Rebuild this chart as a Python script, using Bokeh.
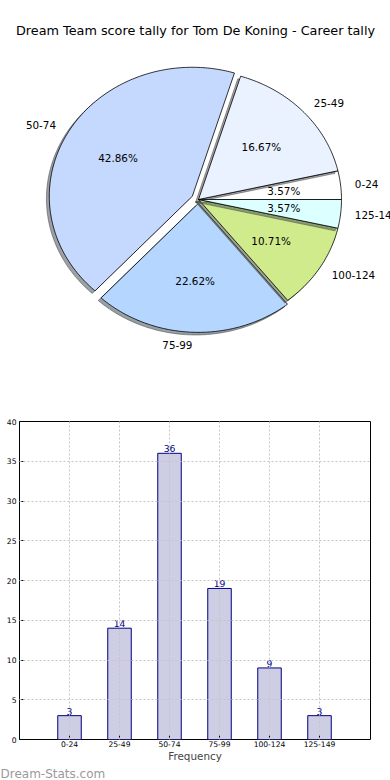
import math
from bokeh.plotting import figure
from bokeh.models import ColumnDataSource, Label, FixedTicker, Range1d, Title
from bokeh.embed import file_html
from bokeh.resources import INLINE
from bokeh.core.properties import value

# ---------------- data ----------------
title_text = "Dream Team score tally for Tom De Koning - Career tally"
categories = ["0-24", "25-49", "50-74", "75-99", "100-124", "125-149"]
counts = [3, 14, 36, 19, 9, 3]
slice_colors = ["#ffffff", "#eaf1ff", "#c5d9ff", "#b5d7ff", "#d0eb8c", "#dcffff"]
explode = [0.0, 0.0, 0.05, 0.03, 0.0, 0.0]
y_ticks = [0, 5, 10, 15, 20, 25, 30, 35, 40]
x_axis_label = "Frequency"
watermark = "Dream-Stats.com"

FONT = "DejaVu Sans"
W = 390

# ---------------- pie ----------------
H1 = 400
cx_px, cy_px = 198.0, 199.0      # pie centre on the canvas
rx_px, ry_px = 143.0, 129.0      # pixels per unit radius (elliptical pie)

p1 = figure(width=W, height=H1, output_backend="svg", toolbar_location=None,
            x_range=Range1d(-cx_px / rx_px, (W - cx_px) / rx_px),
            y_range=Range1d(-(H1 - cy_px) / ry_px, cy_px / ry_px),
            x_axis_type=None, y_axis_type=None, min_border=0)
p1.outline_line_color = None
p1.grid.visible = False

total = float(sum(counts))
xs, ys, fills, falpha, lcolors, lalpha, lwidth = [], [], [], [], [], [], []
lab_l = dict(x=[], y=[], t=[])
lab_r = dict(x=[], y=[], t=[])
pct = dict(x=[], y=[], t=[])
cum = 0.0
for cat, c, col, ex in zip(categories, counts, slice_colors, explode):
    t1 = 360.0 * cum / total
    t2 = 360.0 * (cum + c) / total
    cum += c
    tm = math.radians((t1 + t2) / 2.0)
    ox, oy = ex * math.cos(tm), ex * math.sin(tm)
    n = max(2, int(abs(t2 - t1)) + 1)
    px = [ox]
    py = [oy]
    for k in range(n + 1):
        a = math.radians(t1 + (t2 - t1) * k / n)
        px.append(ox + math.cos(a))
        py.append(oy + math.sin(a))
    # shadow (matplotlib style: 0.3 * face colour, alpha 0.5, offset -0.02)
    r = int(col[1:3], 16); g = int(col[3:5], 16); b = int(col[5:7], 16)
    sc = "#%02x%02x%02x" % (int(r * 0.3), int(g * 0.3), int(b * 0.3))
    xs.append([v - 0.02 for v in px]); ys.append([v - 0.02 for v in py])
    fills.append(sc); falpha.append(0.5); lcolors.append(sc); lalpha.append(0.5); lwidth.append(1.0)
    xs.append(px); ys.append(py)
    fills.append(col); falpha.append(1.0); lcolors.append("#000000"); lalpha.append(1.0); lwidth.append(0.8)
    # labels
    lx = ox + 1.1 * math.cos(tm)
    ly = oy + 1.1 * math.sin(tm)
    d = lab_l if lx > 0 else lab_r
    d["x"].append(lx); d["y"].append(ly); d["t"].append(cat)
    pct["x"].append(ox + 0.6 * math.cos(tm))
    pct["y"].append(oy + 0.6 * math.sin(tm))
    pct["t"].append("%.2f%%" % (100.0 * c / total))

src = ColumnDataSource(dict(xs=xs, ys=ys, fill=fills, fa=falpha, lc=lcolors, la=lalpha, lw=lwidth))
p1.patches("xs", "ys", source=src, fill_color="fill", fill_alpha="fa",
           line_color="lc", line_alpha="la", line_width="lw")

txt_style = dict(text_font=value(FONT), text_font_size=value("10.4px"), text_color="#000000",
                 text_baseline="middle")
p1.text(x=lab_l["x"], y=lab_l["y"], text=lab_l["t"], text_align="left", **txt_style)
p1.text(x=lab_r["x"], y=lab_r["y"], text=lab_r["t"], text_align="right", **txt_style)
p1.text(x=pct["x"], y=pct["y"], text=pct["t"], text_align="center", **txt_style)

p1.add_layout(Label(x=W / 2.0, y=H1 - 30, x_units="screen", y_units="screen", text=title_text,
                    text_align="center", text_baseline="middle", text_font=FONT,
                    text_font_size="12.8px", text_color="#000000"))

# ---------------- bar chart ----------------
H2 = 380
BL, BR, BT, BB = 19, 20, 21, 40
xpos = list(range(len(categories)))
p2 = figure(width=W, height=H2, output_backend="svg", toolbar_location=None,
            x_range=Range1d(-1.0, 6.02), y_range=Range1d(0, 40),
            min_border_left=BL, min_border_right=BR, min_border_top=BT, min_border_bottom=BB)
p2.outline_line_color = "#000000"
p2.outline_line_width = 1

p2.vbar(x=xpos, top=counts, width=0.47, bottom=0, fill_color="#cdcde4",
        line_color="#000080", line_width=1)
p2.text(x=xpos, y=counts, text=[str(c) for c in counts], text_align="center",
        text_baseline="bottom", y_offset=-1, text_font=value(FONT), text_font_size=value("9.2px"),
        text_color="#000080")

xt = FixedTicker(ticks=xpos)
yt = FixedTicker(ticks=y_ticks)
p2.xaxis.ticker = xt
p2.yaxis.ticker = yt
p2.xaxis.major_label_overrides = {i: c for i, c in zip(xpos, categories)}
for ax in (p2.xaxis[0], p2.yaxis[0]):
    ax.axis_line_color = None
    ax.major_tick_in = 4
    ax.major_tick_out = 0
    ax.minor_tick_line_color = None
    ax.major_label_text_font = FONT
    ax.major_label_text_font_size = "7.6px"
    ax.major_label_text_color = "#000000"
p2.xaxis.major_label_standoff = 1
p2.yaxis.major_label_standoff = 3
p2.xaxis.axis_label = x_axis_label
p2.xaxis.axis_label_text_font = FONT
p2.xaxis.axis_label_text_font_size = "10.4px"
p2.xaxis.axis_label_text_font_style = "normal"
p2.xaxis.axis_label_standoff = 0

for gr in (p2.xgrid[0], p2.ygrid[0]):
    gr.grid_line_color = "#c4c4c4"
    gr.grid_line_dash = "2 2"
    gr.grid_line_width = 1
    gr.level = "annotation"

p2.add_layout(Title(text=watermark, align="left", offset=-BL, standoff=0,
                    text_font=FONT, text_font_size="12px", text_font_style="normal",
                    text_line_height=1.0, text_color="#9a9a9a"), "below")

open("out.html", "w").write(file_html([p1, p2], INLINE))
